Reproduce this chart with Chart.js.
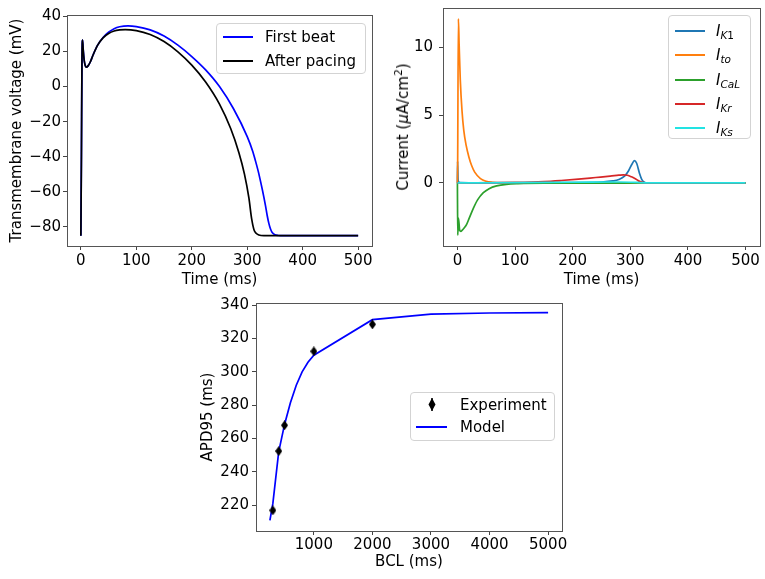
<!DOCTYPE html>
<html><head><meta charset="utf-8">
<script src="https://cdn.jsdelivr.net/npm/chart.js@4.4.1/dist/chart.umd.min.js"></script>
<style>
html,body{margin:0;padding:0;background:#fff;}
body{width:765px;height:579px;position:relative;overflow:hidden;font-family:"DejaVu Sans",sans-serif;color:#000;}
.cw{position:absolute;}
.leg{position:absolute;background:rgba(255,255,255,0.85);border:1px solid #d3d3d3;border-radius:4px;box-sizing:border-box;}
.ln{position:absolute;height:0;border-top:2px solid #000;}
.lt{position:absolute;font-size:15px;line-height:18px;white-space:nowrap;transform:translateY(-50%);}
.lt sub{font-size:10.5px;vertical-align:-3px;line-height:0;}
.rot{position:absolute;font-size:15px;white-space:nowrap;transform:translate(-50%,-50%) rotate(-90deg);line-height:18px;}
.rot sup{font-size:10.5px;vertical-align:6px;line-height:0;}
</style>
</head><body>
<div class="cw" style="left:0;top:0;"><canvas id="c1" width="380" height="290"></canvas></div>
<div class="cw" style="left:380px;top:0;"><canvas id="c2" width="385" height="290"></canvas></div>
<div class="cw" style="left:190px;top:290px;"><canvas id="c3" width="380" height="289"></canvas></div>

<div class="rot" style="left:403px;top:127px;">Current (<i>μ</i>A/cm<sup>2</sup>)</div>

<div class="leg" style="left:216px;top:23px;width:150px;height:51px;"></div>
<div class="ln" style="left:223px;top:36px;width:30px;border-color:#0000ff;"></div>
<div class="lt" style="left:265px;top:37px;">First beat</div>
<div class="ln" style="left:223px;top:60px;width:30px;border-color:#000;"></div>
<div class="lt" style="left:265px;top:61px;">After pacing</div>

<div class="leg" style="left:668px;top:15px;width:83px;height:124px;"></div>
<div class="ln" style="left:675px;top:30px;width:30px;border-color:#1f77b4;"></div>
<div class="lt" style="left:716px;top:31px;"><i>I</i><sub><i>K</i>1</sub></div>
<div class="ln" style="left:675px;top:54px;width:30px;border-color:#ff7f0e;"></div>
<div class="lt" style="left:716px;top:55px;"><i>I</i><sub><i>to</i></sub></div>
<div class="ln" style="left:675px;top:79px;width:30px;border-color:#2ca02c;"></div>
<div class="lt" style="left:716px;top:80px;"><i>I</i><sub><i>CaL</i></sub></div>
<div class="ln" style="left:675px;top:103px;width:30px;border-color:#d62728;"></div>
<div class="lt" style="left:716px;top:104px;"><i>I</i><sub><i>Kr</i></sub></div>
<div class="ln" style="left:675px;top:127px;width:30px;border-color:#22e3e3;"></div>
<div class="lt" style="left:716px;top:128px;"><i>I</i><sub><i>Ks</i></sub></div>

<div class="leg" style="left:410px;top:392px;width:145px;height:49px;"></div>
<svg style="position:absolute;left:428px;top:398px;" width="8" height="13"><polygon points="4,0 7.5,6.5 4,13 0.5,6.5" fill="#000"/><line x1="4" y1="0" x2="4" y2="13" stroke="#000" stroke-width="1.5"/></svg>
<div class="lt" style="left:460px;top:405px;">Experiment</div>
<div class="ln" style="left:416px;top:426px;width:31px;border-color:#0000ff;"></div>
<div class="lt" style="left:460px;top:427px;">Model</div>

<script>
// ---------- Panel A: action potential ----------
const apTimeFirst = [0, 1, 2, 3, 4, 6, 8, 10, 13, 17, 22, 30, 40, 50, 60, 70, 85, 100, 125, 150, 175, 200, 225, 250, 275, 300, 310, 315, 320, 325, 330, 333, 336, 339, 342, 345, 350, 356, 365, 500];
const apVoltFirst = [-85, -40, 15, 26.5, 22, 15, 11.8, 11, 11.8, 14, 18, 23.5, 28, 31, 33, 34.1, 34.6, 34.2, 32.3, 28.8, 23.6, 17.1, 9.5, 0, -12.5, -28.5, -37, -42.5, -48.5, -55.5, -63, -68, -73.5, -78, -81.2, -83.2, -84.5, -84.9, -85, -85];
const apTimePaced = [0, 1, 2, 3, 4, 6, 8, 10, 13, 17, 22, 30, 40, 50, 60, 70, 80, 100, 125, 150, 175, 200, 225, 250, 270, 285, 295, 303, 308, 312, 316, 321, 330, 500];
const apVoltPaced = [-85, -40, 15, 26.5, 22, 15, 11.8, 11, 11.8, 14, 18, 23.5, 27.8, 30.3, 31.7, 32.3, 32.5, 31.9, 29.65, 25.65, 19.8, 12.2, 2.6, -10, -23.8, -37.7, -49.9, -63.5, -75.5, -81.5, -83.6, -84.6, -85, -85];
const apXTicks = [0, 100, 200, 300, 400, 500];
const apYTicks = [-80, -60, -40, -20, 0, 20, 40];

// ---------- Panel B: currents ----------
const tK1 = [0, 0.3, 1.2, 3, 6, 20, 100, 200, 250, 270, 280, 290, 297, 303, 307, 311, 316, 320, 325, 330, 500];
const iK1 = [0, 1.6, 0.2, 0.05, 0.02, 0.01, 0.01, 0.03, 0.07, 0.15, 0.25, 0.5, 0.9, 1.4, 1.65, 1.45, 0.7, 0.25, 0.04, 0, 0];
const tTo = [0, 0.4, 1.7, 3, 5, 8, 11, 15, 20, 25, 30, 40, 50, 60, 80, 500];
const iTo = [0, 1.2, 12.1, 10.2, 7.6, 5.3, 3.9, 2.8, 1.9, 1.25, 0.8, 0.32, 0.12, 0.05, 0.01, 0];
const tCaL = [0, 0.6, 1.8, 4, 6, 8, 12, 16, 20, 28, 35, 45, 55, 68, 85, 105, 150, 250, 320, 500];
const iCaL = [0, -3.85, -2.6, -3.5, -3.57, -3.5, -3.3, -3.05, -2.65, -1.84, -1.25, -0.72, -0.42, -0.22, -0.1, -0.05, -0.02, -0.02, 0, 0];
const tKr = [0, 100, 150, 180, 210, 240, 265, 280, 288, 295, 302, 310, 317, 323, 330, 500];
const iKr = [0, 0.04, 0.1, 0.18, 0.28, 0.4, 0.5, 0.57, 0.6, 0.57, 0.45, 0.27, 0.1, 0.02, 0, 0];
const tKs = [0, 100, 200, 280, 310, 330, 500];
const iKs = [0, 0.03, 0.05, 0.07, 0.04, 0, 0];
const curXTicks = [0, 100, 200, 300, 400, 500];
const curYTicks = [0, 5, 10];

// ---------- Panel C: restitution ----------
const bclExp = [300, 400, 500, 1000, 2000];
const apdExp = [217, 252.5, 268, 312.3, 328.5];
const apdErr = [1.5, 1.5, 1.5, 1.5, 1.5];
const bclModel = [250, 300, 400, 500, 600, 700, 800, 900, 1000, 2000, 3000, 4000, 5000];
const apdModel = [211, 221, 252, 268.5, 281.5, 292, 300, 305.8, 310, 331.3, 334.6, 335.3, 335.5];
const bclTicks = [1000, 2000, 3000, 4000, 5000];
const apdTicks = [220, 240, 260, 280, 300, 320, 340];

const FONT = 'DejaVu Sans';
const pts = (xs, ys) => xs.map((x, i) => ({x, y: ys[i]}));
const fmt = v => v < 0 ? '\u2212' + Math.abs(v) : String(v);

const boxPlugin = {id: 'box', afterDraw(c) {
  const a = c.chartArea, g = c.ctx;
  g.save(); g.strokeStyle = '#555'; g.lineWidth = 1;
  g.strokeRect(Math.round(a.left) + 0.5, Math.round(a.top) + 0.5, Math.round(a.right - a.left), Math.round(a.bottom - a.top));
  g.restore();
}};

function axis(o) {
  const isX = o.pos === 'bottom';
  return {
    type: 'linear', position: o.pos, min: o.min, max: o.max,
    afterBuildTicks: s => { s.ticks = o.ticks.map(v => ({value: v})); },
    afterFit: s => {
      if (isX) { s.height = o.size; s.paddingLeft = 0; s.paddingRight = 0; }
      else { s.width = o.size; s.paddingTop = 0; s.paddingBottom = 0; }
    },
    grid: {display: true, drawOnChartArea: false, drawTicks: true, tickLength: 4, tickColor: '#444', tickWidth: 1},
    border: {display: false},
    ticks: {color: '#000', font: {family: FONT, size: 15}, padding: o.tpad, maxRotation: 0, autoSkip: false, callback: v => fmt(v)},
    title: {display: !!o.title, text: o.title || '', color: '#000', font: {family: FONT, size: 15},
      padding: isX ? {top: 0, bottom: o.ttl} : {top: o.ttl, bottom: 0}}
  };
}

function line(data, color, extra) {
  return Object.assign({data, borderColor: color, backgroundColor: color, borderWidth: 1.7, pointRadius: 0,
    cubicInterpolationMode: 'monotone', fill: false}, extra || {});
}

const common = {responsive: false, animation: false, events: [],
  plugins: {legend: {display: false}, tooltip: {enabled: false}}};

new Chart(document.getElementById('c1'), {
  type: 'line',
  data: {datasets: [
    line(pts(apTimeFirst, apVoltFirst), '#0000ff', {order: 2}),
    line(pts(apTimePaced, apVoltPaced), '#000000', {order: 1})
  ]},
  options: Object.assign({}, common, {
    layout: {padding: {top: 15, right: 8, left: 0, bottom: 0}},
    scales: {
      x: axis({pos: 'bottom', min: -25, max: 525, ticks: apXTicks, size: 44, tpad: 2, title: 'Time (ms)', ttl: 1}),
      y: axis({pos: 'left', min: -90.9, max: 40.8, ticks: apYTicks, size: 67, tpad: 2, title: 'Transmembrane voltage (mV)', ttl: 8})
    }
  }),
  plugins: [boxPlugin]
});

new Chart(document.getElementById('c2'), {
  type: 'line',
  data: {datasets: [
    line(pts(tK1, iK1), '#1f77b4', {order: 5}),
    line(pts(tTo, iTo), '#ff7f0e', {order: 4}),
    line(pts(tCaL, iCaL), '#2ca02c', {order: 3}),
    line(pts(tKr, iKr), '#d62728', {order: 2}),
    line(pts(tKs, iKs), '#22e3e3', {order: 1})
  ]},
  options: Object.assign({}, common, {
    layout: {padding: {top: 8, right: 5, left: 0, bottom: 0}},
    scales: {
      x: axis({pos: 'bottom', min: -25, max: 525, ticks: curXTicks, size: 44, tpad: 2, title: 'Time (ms)', ttl: 1}),
      y: axis({pos: 'left', min: -4.65, max: 12.9, ticks: curYTicks, size: 63, tpad: 6, title: '', ttl: 0})
    }
  }),
  plugins: [boxPlugin]
});

function diamond(w, h) {
  const c = document.createElement('canvas'); c.width = w; c.height = h;
  const g = c.getContext('2d'); g.fillStyle = '#000';
  g.beginPath(); g.moveTo(w / 2, 0); g.lineTo(w, h / 2); g.lineTo(w / 2, h); g.lineTo(0, h / 2); g.closePath(); g.fill();
  return c;
}
const errPlugin = {id: 'err', afterDatasetsDraw(c) {
  const xs = c.scales.x, ys = c.scales.y, g = c.ctx;
  g.save(); g.strokeStyle = '#000'; g.lineWidth = 1.5;
  bclExp.forEach((b, i) => {
    const px = xs.getPixelForValue(b);
    g.beginPath();
    g.moveTo(px, ys.getPixelForValue(apdExp[i] - apdErr[i]));
    g.lineTo(px, ys.getPixelForValue(apdExp[i] + apdErr[i]));
    g.stroke();
  });
  g.restore();
}};

new Chart(document.getElementById('c3'), {
  type: 'line',
  data: {datasets: [
    {data: pts(bclExp, apdExp), showLine: false, pointStyle: diamond(7, 10), pointRadius: 5, borderColor: '#000', backgroundColor: '#000', order: 1},
    line(pts(bclModel, apdModel), '#0000ff', {order: 2, cubicInterpolationMode: 'default', tension: 0})
  ]},
  options: Object.assign({}, common, {
    layout: {padding: {top: 13, right: 8, left: 0, bottom: 0}},
    scales: {
      x: axis({pos: 'bottom', min: 12.5, max: 5237.5, ticks: bclTicks, size: 48, tpad: 1, title: 'BCL (ms)', ttl: 8}),
      y: axis({pos: 'left', min: 204.6, max: 341.3, ticks: apdTicks, size: 66, tpad: 3, title: 'APD95 (ms)', ttl: 9})
    }
  }),
  plugins: [boxPlugin, errPlugin]
});
</script>
</body></html>
